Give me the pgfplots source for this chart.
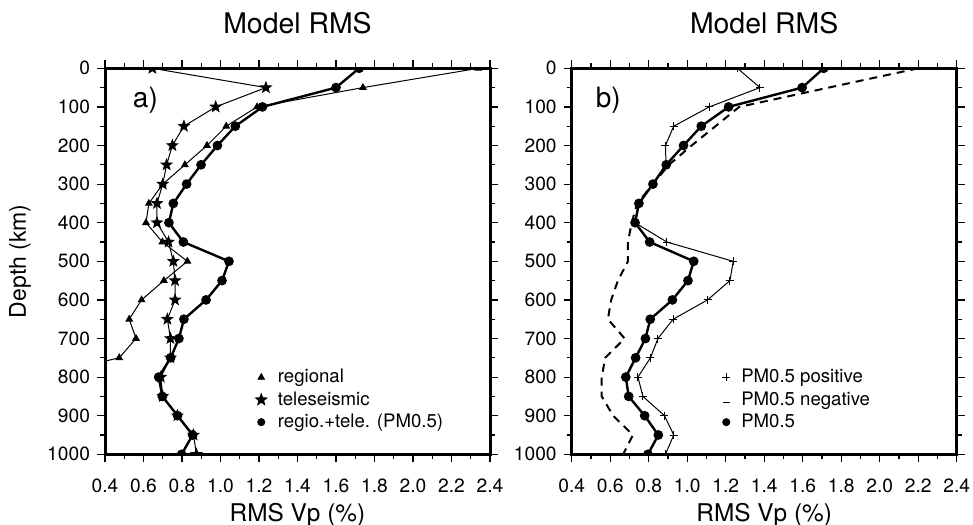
\documentclass[border=0pt]{standalone}
\usepackage{fontspec}
\setmainfont{TeX Gyre Heros}
\usepackage{pgfplots}
\pgfplotsset{compat=1.18}

% filled five-point star mark
\pgfdeclareplotmark{fstar}{%
  \pgfpathmoveto{\pgfpointpolar{90}{\pgfplotmarksize}}%
  \pgfpathlineto{\pgfpointpolar{126}{0.42\pgfplotmarksize}}%
  \pgfpathlineto{\pgfpointpolar{162}{\pgfplotmarksize}}%
  \pgfpathlineto{\pgfpointpolar{198}{0.42\pgfplotmarksize}}%
  \pgfpathlineto{\pgfpointpolar{234}{\pgfplotmarksize}}%
  \pgfpathlineto{\pgfpointpolar{270}{0.42\pgfplotmarksize}}%
  \pgfpathlineto{\pgfpointpolar{306}{\pgfplotmarksize}}%
  \pgfpathlineto{\pgfpointpolar{342}{0.42\pgfplotmarksize}}%
  \pgfpathlineto{\pgfpointpolar{18}{\pgfplotmarksize}}%
  \pgfpathlineto{\pgfpointpolar{54}{0.42\pgfplotmarksize}}%
  \pgfpathclose
  \pgfusepathqfillstroke
}

\pgfplotsset{
  /pgf/number format/assume math mode=true,
  rmspanel/.style={
    scale only axis, width=192.5pt, height=193pt,
    xmin=0.4, xmax=2.4, ymin=0, ymax=1000, y dir=reverse,
    xtick={0.4,0.6,0.8,1.0,1.2,1.4,1.6,1.8,2.0,2.2,2.4},
    ytick={0,100,200,300,400,500,600,700,800,900,1000},
    minor x tick num=1, minor y tick num=1,
    tick align=outside, tick pos=both,
    xticklabel pos=lower, yticklabel pos=left,
    major tick length=4pt, minor tick length=2.5pt,
    every tick/.style={black, line width=0.6pt},
    axis line style={line width=1.5pt},
    xticklabel style={/pgf/number format/.cd, fixed, fixed zerofill, precision=1, /tikz/.cd, yshift=-5pt},
    yticklabel style={/pgf/number format/.cd, 1000 sep={}},
    tick label style={font=\fontsize{9.6}{11}\selectfont},
    title style={font=\fontsize{14.2}{16}\selectfont, at={(axis description cs:0.5,1)}, anchor=center, yshift=16.7pt},
    xlabel={RMS Vp (\%)},
    xlabel style={font=\fontsize{12.2}{14}\selectfont, at={(axis description cs:0.5,0)}, anchor=base, yshift=-33.6pt},
    clip marker paths=true,
    legend style={draw=none, fill=none, at={(axis description cs:0.39,0.232)}, anchor=north west,
      font=\fontsize{9.3}{10}\selectfont, row sep=-1.1pt, inner sep=0pt,
      /tikz/every odd column/.append style={column sep=3.5pt}},
    legend cell align=left,
  },
  thinline/.style={black, line width=0.5pt},
  boldline/.style={black, line width=1.2pt, mark=*, mark size=1.8pt, mark options={solid}},
}

\begin{document}
\begin{tikzpicture}
\useasboundingbox (-52.5pt,-34.85pt) rectangle (434pt,227.15pt);

% ---------- panel a ----------
\begin{axis}[rmspanel, at={(0pt,0pt)}, anchor=south west,
  title={Model RMS}, ylabel={Depth (km)},
  ylabel style={font=\fontsize{11.5}{13}\selectfont, at={(axis description cs:-0.221,0.5)}, anchor=center}]
\addlegendimage{only marks, mark=triangle*, mark size=1.9pt}
\addlegendentry{regional}
\addlegendimage{only marks, mark=fstar, mark size=3pt}
\addlegendentry{teleseismic}
\addlegendimage{only marks, mark=*, mark size=1.8pt}
\addlegendentry{regio.+tele. (PM0.5)}

% regional
\addplot[forget plot, thinline, mark=triangle*, mark size=1.8pt] coordinates {
(2.34,0)(1.74,50)(1.19,100)(1.03,150)(0.93,200)(0.815,250)(0.70,300)(0.628,350)
(0.613,400)(0.698,450)(0.828,500)(0.706,550)(0.59,600)(0.526,650)(0.561,700)
(0.474,750)(0.05,800)};
% teleseismic
\addplot[forget plot, thinline, mark=fstar, mark size=2.7pt] coordinates {
(0.646,0)(1.236,50)(0.975,100)(0.81,150)(0.75,200)(0.72,250)(0.70,300)(0.67,350)
(0.67,400)(0.73,450)(0.755,500)(0.764,550)(0.764,600)(0.724,650)(0.74,700)
(0.74,750)(0.69,800)(0.70,850)(0.776,900)(0.86,950)(0.875,1000)};
% regio.+tele. (PM0.5)
\addplot[forget plot, boldline] coordinates {
(1.72,0)(1.60,50)(1.218,100)(1.077,150)(0.984,200)(0.899,250)(0.824,300)(0.755,350)
(0.732,400)(0.807,450)(1.044,500)(1.008,550)(0.925,600)(0.81,650)(0.784,700)
(0.741,750)(0.679,800)(0.698,850)(0.777,900)(0.855,950)(0.798,1000)};

\node[font=\fontsize{14}{16}\selectfont] at (axis cs:0.61,82) {a)};
\end{axis}

% ---------- panel b ----------
\begin{axis}[rmspanel, at={(233.35pt,0pt)}, anchor=south west,
  title={Model RMS}]
\addlegendimage{only marks, mark=+, mark size=2pt, thinline}
\addlegendentry{PM0.5 positive}
\addlegendimage{legend image code/.code={\draw[black, line width=0.6pt] (0.24cm,-1.2pt) -- (0.36cm,-1.2pt);}}
\addlegendentry{PM0.5 negative}
\addlegendimage{only marks, mark=*, mark size=1.8pt}
\addlegendentry{PM0.5}

% PM0.5 negative
\addplot[forget plot, black, line width=1pt, dash pattern=on 4pt off 3pt] coordinates {
(2.20,0)(1.27,100)(1.147,150)(1.023,200)(0.905,250)(0.822,300)(0.740,350)
(0.712,400)(0.692,450)(0.692,500)(0.640,550)(0.605,600)(0.588,650)(0.675,700)
(0.574,750)(0.556,800)(0.556,850)(0.615,900)(0.718,950)(0.667,1000)};
% PM0.5 positive
\addplot[forget plot, thinline, mark=+, mark size=2pt] coordinates {
(1.261,0)(1.378,50)(1.115,100)(0.930,150)(0.887,200)(0.89,250)(0.822,300)(0.749,350)
(0.729,400)(0.894,450)(1.239,500)(1.222,550)(1.106,600)(0.927,650)(0.848,700)
(0.809,750)(0.744,800)(0.770,850)(0.882,900)(0.930,950)(0.887,1000)};
% PM0.5
\addplot[forget plot, boldline] coordinates {
(1.709,0)(1.597,50)(1.215,100)(1.073,150)(0.981,200)(0.891,250)(0.822,300)(0.749,350)
(0.729,400)(0.805,450)(1.034,500)(1.004,550)(0.923,600)(0.808,650)(0.783,700)
(0.732,750)(0.681,800)(0.696,850)(0.779,900)(0.850,950)(0.796,1000)};

\node[font=\fontsize{14}{16}\selectfont] at (axis cs:0.59,82) {b)};
\end{axis}
\end{tikzpicture}
\end{document}
